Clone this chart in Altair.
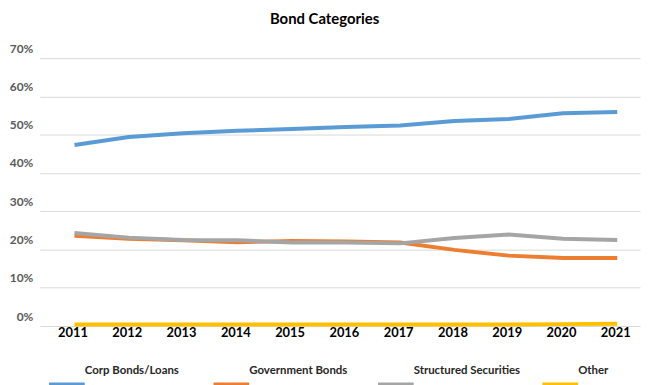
import altair as alt
import pandas as pd

years = list(range(2011, 2022))
series_names = ["Corp Bonds/Loans", "Government Bonds", "Structured Securities", "Other"]
series_colors = ["#5B9BD5", "#ED7D31", "#A5A5A5", "#FFC000"]

corp = [0.473, 0.494, 0.504, 0.510, 0.515, 0.520, 0.524, 0.536, 0.541, 0.556, 0.559]
gov = [0.236, 0.228, 0.224, 0.219, 0.222, 0.221, 0.218, 0.199, 0.184, 0.178, 0.178]
struct = [0.243, 0.231, 0.225, 0.224, 0.218, 0.218, 0.216, 0.230, 0.239, 0.228, 0.225]
other = [0.004, 0.004, 0.004, 0.004, 0.004, 0.004, 0.004, 0.004, 0.004, 0.005, 0.006]
y_ticks = [0, 0.1, 0.2, 0.3, 0.4, 0.5, 0.6, 0.7]

rows = []
for name, vals in zip(series_names, [corp, gov, struct, other]):
    for yr, v in zip(years, vals):
        rows.append({"series": name, "year": yr, "value": v})
df = pd.DataFrame(rows)

FONT = "Lato"
color_scale = alt.Scale(domain=series_names, range=series_colors)

main = alt.Chart(df).mark_line(strokeWidth=4, strokeCap="butt").encode(
    x=alt.X("year:Q",
            scale=alt.Scale(domain=[2010.36, 2021.42], nice=False, zero=False),
            axis=alt.Axis(values=years, format="d", title=None, grid=False, ticks=False,
                          domain=False, labelFont=FONT, labelFontWeight="bold",
                          labelFontSize=13, labelColor="#000000", labelPadding=1,
                          labelFlush=False, labelOffset=-2)),
    y=alt.Y("value:Q",
            scale=alt.Scale(domain=[0, 0.7], nice=False),
            axis=alt.Axis(values=y_ticks, format=".0%", title=None, ticks=False,
                          domain=False, gridColor="#d9d9d9", gridWidth=1,
                          labelFont=FONT, labelFontWeight="bold", labelFontSize=12,
                          labelColor="#595959", labelOffset=-10, labelPadding=7)),
    color=alt.Color("series:N", scale=color_scale, legend=None),
    order=alt.Order("year:Q"),
).properties(width=605, height=270)

leg_df = pd.DataFrame({"series": series_names})
leg_x = alt.X("series:N", scale=alt.Scale(type="point", domain=series_names, padding=0.165),
              axis=None)
swatches = alt.Chart(leg_df).mark_point(shape="stroke", size=1296, strokeWidth=4,
                                        opacity=1, filled=False).encode(
    x=leg_x,
    color=alt.Color("series:N", scale=color_scale, legend=None),
)
labels = alt.Chart(leg_df).mark_text(align="left", dx=18, dy=-14, font=FONT,
                                     fontWeight="bold", fontSize=11.5,
                                     color="#262626").encode(
    x=leg_x,
    text="series:N",
)
legend = alt.layer(swatches, labels).properties(width=552, height=20)

chart = alt.vconcat(main, legend, spacing=25).properties(
    title=alt.TitleParams("Bond Categories", font=FONT, fontSize=15, fontWeight="bold",
                          color="#000000", anchor="middle", offset=15),
    padding={"left": 1, "top": 3, "right": 2, "bottom": 2},
).configure_view(stroke=None).configure_concat(spacing=25)

chart.save("out.html", embed_options={"renderer": "svg", "actions": False})
